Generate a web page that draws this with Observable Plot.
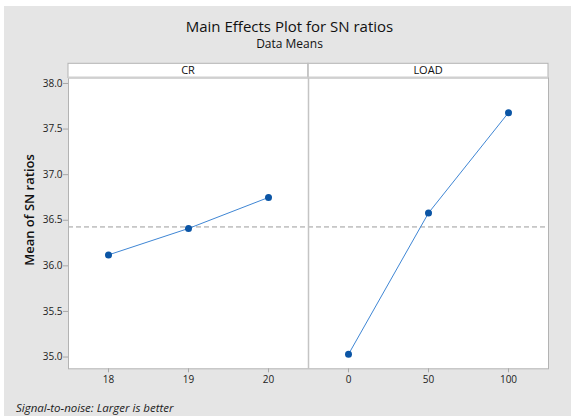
<!DOCTYPE html>
<html>
<head>
<meta charset="utf-8">
<script src="https://cdn.jsdelivr.net/npm/d3@7"></script>
<script src="https://cdn.jsdelivr.net/npm/@observablehq/plot@0.6"></script>
<style>
  html, body { margin: 0; padding: 0; background: #ffffff; width: 571px; height: 416px; overflow: hidden; }
  #bg { position: absolute; left: 4px; top: 6px; width: 567px; height: 410px; background: #e5e5e5; }
  .t { position: absolute; left: 0; width: 571px; text-align: center; font-family: "Open Sans", sans-serif; color: #111; line-height: 1; white-space: nowrap; font-weight: 500; }
  #title { top: 18.7px; font-size: 15px; left: 4px; }
  #subtitle { top: 38.3px; font-size: 12px; left: 4px; }
  #caption { position: absolute; left: 16px; top: 401.5px; font-family: "Open Sans", sans-serif; font-style: italic; font-size: 11.5px; line-height: 1; color: #222; white-space: nowrap; }
  #chart { position: absolute; left: 0; top: 56px; }
</style>
</head>
<body>
<div id="bg"></div>
<div id="title" class="t">Main Effects Plot for SN ratios</div>
<div id="subtitle" class="t">Data Means</div>
<div id="chart"></div>
<div id="caption">Signal-to-noise: Larger is better</div>
<script>
// ---- data ----
const factors = ["CR", "LOAD"];
const crLevels = [18, 19, 20];
const crMeans = [36.12, 36.41, 36.75];
const loadLevels = [0, 50, 100];
const loadMeans = [35.03, 36.58, 37.68];
const yTicks = [35.0, 35.5, 36.0, 36.5, 37.0, 37.5, 38.0];
const yLabel = "Mean of SN ratios";

// ---- table built from the arrays ----
const groups = [
  {factor: factors[0], levels: crLevels, means: crMeans},
  {factor: factors[1], levels: loadLevels, means: loadMeans}
];
const rows = [];
const tickLabels = [];
let k = 0;
for (const g of groups) {
  g.levels.forEach((lev, i) => {
    rows.push({factor: g.factor, idx: k, level: lev, mean: g.means[i]});
    tickLabels.push(String(lev));
    k++;
  });
}
const idxs = rows.map(d => d.idx);
const grandMean = d3.mean(crMeans);
const dividerPos = crLevels.length - 0.5;

const W = 571, H = 339;
const mL = 68, mR = 23, mT = 21.5, mB = 26.7;

const chart = Plot.plot({
  width: W, height: H,
  marginLeft: mL, marginRight: mR, marginTop: mT, marginBottom: mB,
  style: {background: "transparent", fontFamily: "Open Sans, sans-serif", fontSize: "10px", fontWeight: 500, color: "#222"},
  x: {type: "linear", domain: [-0.5, idxs.length - 0.5], label: null},
  y: {domain: [34.871, 38.06], label: null},
  marks: [
    Plot.frame({fill: "white", stroke: "none"}),
    Plot.ruleY([grandMean], {stroke: "#9c9c9c", strokeWidth: 1, strokeDasharray: "5,3"}),
    Plot.ruleX([dividerPos], {stroke: "#c4c4c4", strokeWidth: 1.5}),
    Plot.line(rows, {x: "idx", y: "mean", z: "factor", stroke: "#3f86d4", strokeWidth: 1}),
    Plot.dot(rows, {x: "idx", y: "mean", r: 3.5, fill: "#0b55a5", stroke: "none"}),
    Plot.frame({stroke: "#b3b3b3"}),
    Plot.axisX({ticks: idxs, tickFormat: i => tickLabels[i], tickSize: 4, tickPadding: 3, stroke: "#a8a8a8", fill: "#222", label: null}),
    Plot.axisY({ticks: yTicks, tickFormat: d3.format(".1f"), tickSize: 5, tickPadding: 1, stroke: "#a8a8a8", fill: "#222", label: null})
  ]
});

document.getElementById("chart").appendChild(chart);

// ---- facet header strip and y-axis title, positioned from the plot's scales ----
const xs = chart.scale("x");
const svg = d3.select(chart);
const hTop = 7.3, hBot = mT;
const xL = xs.apply(-0.5), xM = xs.apply(dividerPos), xR = xs.apply(idxs.length - 0.5);
const hdr = svg.append("g");
[[xL, xM, factors[0]], [xM, xR, factors[1]]].forEach(([a, b, name]) => {
  hdr.append("rect").attr("x", a).attr("y", hTop).attr("width", b - a).attr("height", hBot - hTop)
    .attr("fill", "white").attr("stroke", "#b3b3b3").attr("stroke-width", 1);
  hdr.append("text").attr("x", (a + b) / 2).attr("y", 18.2).attr("text-anchor", "middle")
    .attr("font-family", "Open Sans, sans-serif").attr("font-size", 11).attr("font-weight", 500)
    .attr("fill", "#111").text(name);
});
hdr.append("line").attr("x1", xL).attr("x2", xR).attr("y1", hBot).attr("y2", hBot)
  .attr("stroke", "#d0d0d0").attr("stroke-width", 2);
hdr.append("line").attr("x1", xM).attr("x2", xM).attr("y1", hTop).attr("y2", hBot)
  .attr("stroke", "#c4c4c4").attr("stroke-width", 1.5);

svg.append("text")
  .attr("transform", `translate(31, ${210 - 56}) rotate(-90)`)
  .attr("text-anchor", "middle").attr("dominant-baseline", "middle")
  .attr("font-family", "Open Sans, sans-serif").attr("font-size", 13).attr("font-weight", 600)
  .attr("fill", "#111").text(yLabel);
</script>
</body>
</html>
